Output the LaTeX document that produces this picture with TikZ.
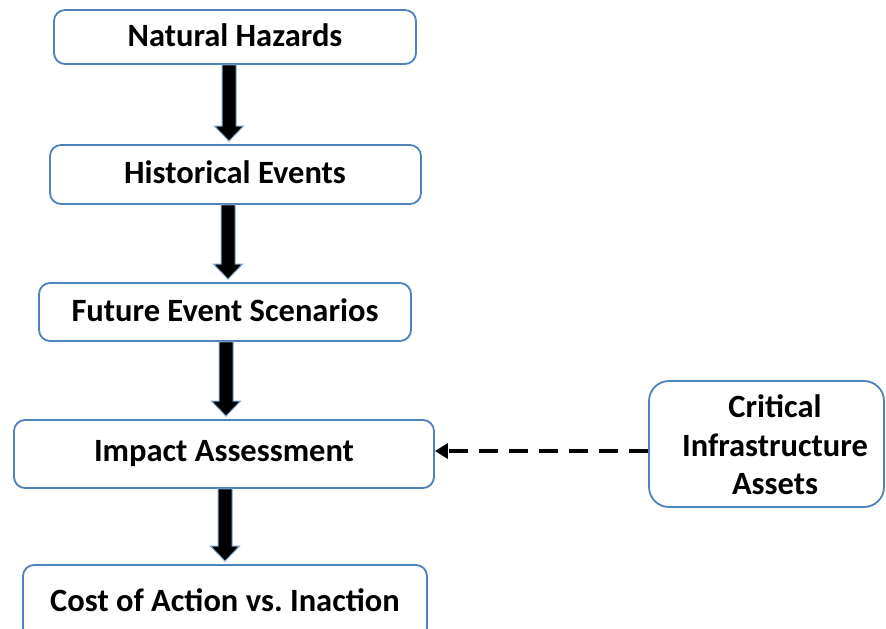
\documentclass[tikz,border=0pt]{standalone}
\usepackage{fontspec}
\setmainfont{Carlito}
\usetikzlibrary{calc,arrows.meta}
\definecolor{boxblue}{RGB}{79,129,189}
\tikzset{
  boxfont/.style={font=\fontsize{32.5}{38.5}\selectfont\bfseries},
  flowbox/.style={draw=boxblue, line width=1.8pt, rounded corners=11pt, fill=white,
    boxfont, align=center, inner sep=0pt},
  fatarrowst/.style={draw=boxblue!70, line width=1pt, fill=black, line join=miter},
  dasharr/.style={line width=4pt, dash pattern=on 19pt off 11pt, -{Triangle[length=13pt,width=15pt]}}
}
\newcommand\fatarrow[3]{%
  \path[fatarrowst] let \p1=(#2.south -| #1), \p2=(#3.north -| #1) in
    ({\x1-7pt},{\y1}) -- ({\x1+7pt},{\y1}) -- ({\x1+7pt},{\y2+18pt}) --
    ({\x1+14.5pt},{\y2+18pt}) -- ({\x2},{\y2+3pt}) -- ({\x1-14.5pt},{\y2+18pt}) --
    ({\x1-7pt},{\y2+18pt}) -- cycle;}
\begin{document}
\begin{tikzpicture}[x=1pt,y=-1pt]
\useasboundingbox (0,0) rectangle (886,629);
\node[flowbox, minimum width=362pt, minimum height=54pt] (n1) at (235,37) {};
\node[boxfont] (t1) at (235,35) {Natural Hazards};
\node[flowbox, minimum width=371pt, minimum height=59pt] (n2) at (235.5,174.5) {};
\node[boxfont] (t2) at (235,172) {Historical Events};
\node[flowbox, minimum width=372pt, minimum height=58pt] (n3) at (225,312) {};
\node[boxfont] (t3) at (225,310) {Future Event Scenarios};
\node[flowbox, minimum width=420pt, minimum height=68pt] (n4) at (224,454) {};
\node[boxfont] (t4) at (224,454) {Impact Assessment};
\node[flowbox, minimum width=404pt, minimum height=74pt] (n5) at (225,602) {};
\node[boxfont, anchor=base] (t5) at (225,611) {Cost of Action vs.\ Inaction};
\node[flowbox, rounded corners=20pt, minimum width=235pt, minimum height=126pt] (n6) at (766.5,444) {};
\node[boxfont, align=center] (t6) at (775,445) {Critical\\Infrastructure\\Assets};
\coordinate (a1) at (229,0);
\coordinate (a2) at (228,0);
\coordinate (a3) at (226,0);
\coordinate (a4) at (225,0);
\fatarrow{a1}{n1}{n2}
\fatarrow{a2}{n2}{n3}
\fatarrow{a3}{n3}{n4}
\fatarrow{a4}{n4}{n5}
\draw[dasharr] (n6.west |- 0,451) -- (n4.east |- 0,451);
\end{tikzpicture}
\end{document}
